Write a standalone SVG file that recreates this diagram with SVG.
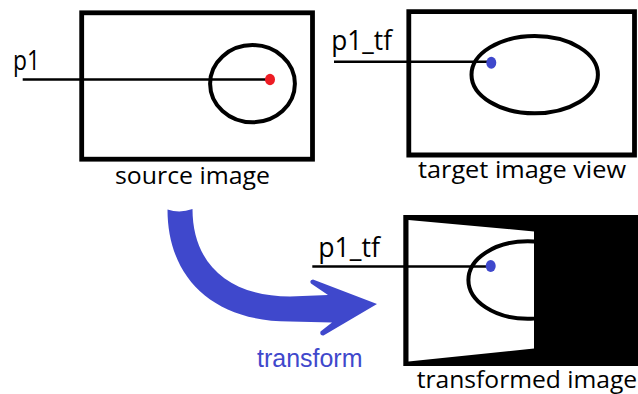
<svg xmlns="http://www.w3.org/2000/svg" width="638" height="394" viewBox="0 0 638 394">
  <defs>
    <style>
      .frame { fill: none; stroke: #000; stroke-width: 4.8; }
      .shape { fill: none; stroke: #000; stroke-width: 4; }
      .leader { stroke: #000; stroke-width: 2.6; fill: none; }
      .label { font-family: "Open Sans", "Noto Sans", sans-serif; fill: #000; }
      .caption { font-size: 24.5px; }
      .pt { font-size: 28px; }
      .indigo { fill: #3f48cc; }
    </style>
    <clipPath id="warp-clip">
      <polygon points="408.5,220 534,231.5 534,348.5 408.5,361.5"/>
    </clipPath>
  </defs>

  <rect width="638" height="394" fill="#fff"/>

  <!-- source image: frame, circle and the point p1 -->
  <g id="source-image">
    <rect class="frame" x="81.7" y="12.8" width="230.8" height="146.4"/>
    <ellipse class="shape" cx="252.5" cy="83.7" rx="42.4" ry="38.6"/>
    <text class="label caption" x="115" y="184" textLength="155" lengthAdjust="spacingAndGlyphs">source image</text>
  </g>

  <!-- target image view: frame and ellipse -->
  <g id="target-view">
    <path d="M408.8 11.7 H634.5 V155 H408.8 Z" fill="none" stroke="#000" stroke-width="4.8"/>
    <ellipse class="shape" cx="534.7" cy="74.7" rx="63.2" ry="38.6"/>
    <text class="label caption" x="418" y="178" textLength="208" lengthAdjust="spacingAndGlyphs">target image view</text>
  </g>

  <!-- transformed image: warped content on a black background -->
  <g id="transformed-image">
    <rect x="403.3" y="215" width="234.7" height="151" fill="#000"/>
    <polygon points="408.5,220 534,231.5 534,348.5 408.5,361.5" fill="#fff"/>
    <ellipse class="shape" cx="527.7" cy="280" rx="59.3" ry="38.8" clip-path="url(#warp-clip)"/>
    <text class="label caption" x="416.7" y="388" textLength="220.5" lengthAdjust="spacingAndGlyphs">transformed image</text>
  </g>

  <!-- leader lines from labels to points -->
  <g id="connectors">
    <line class="leader" x1="22.7" y1="79.5" x2="270" y2="79.5"/>
    <line class="leader" x1="334" y1="61.7" x2="491" y2="61.7"/>
    <line class="leader" x1="312.3" y1="266.5" x2="490.5" y2="266.5"/>
  </g>

  <!-- point markers and their labels -->
  <g id="point-p1">
    <ellipse cx="270" cy="79.5" rx="5" ry="5.8" fill="#ed1c24"/>
    <text class="label pt" x="13" y="69.5" textLength="27" lengthAdjust="spacingAndGlyphs">p1</text>
  </g>
  <g id="point-p1-tf-view">
    <ellipse class="indigo" cx="491.3" cy="62.7" rx="5" ry="6"/>
    <text class="label pt" x="331.3" y="50" textLength="60.7" lengthAdjust="spacingAndGlyphs">p1_tf</text>
  </g>
  <g id="point-p1-tf-warped">
    <ellipse class="indigo" cx="490.7" cy="266" rx="5" ry="6"/>
    <text class="label pt" x="318.3" y="256.7" textLength="61.7" lengthAdjust="spacingAndGlyphs">p1_tf</text>
  </g>

  <!-- curved block arrow with its caption -->
  <g id="transform-arrow">
    <path class="indigo" d="M167.5 209.5
      C167.5 276 211 321.5 290 321.5
      L332 322.5
      L320.5 331.5
      Q319.5 335.8 323.5 335.5
      L377 304
      L313 279.5
      Q309 280 311 283.5
      L328 295
      L290 296.5
      C230 296.5 192.5 265 192.5 209
      Q180 213.5 167.5 209.5 Z"/>
    <text x="257" y="366.5" font-family="Liberation Sans, Arial, sans-serif" font-size="25" fill="#3f48cc" textLength="105.5" lengthAdjust="spacingAndGlyphs">transform</text>
  </g>
</svg>
